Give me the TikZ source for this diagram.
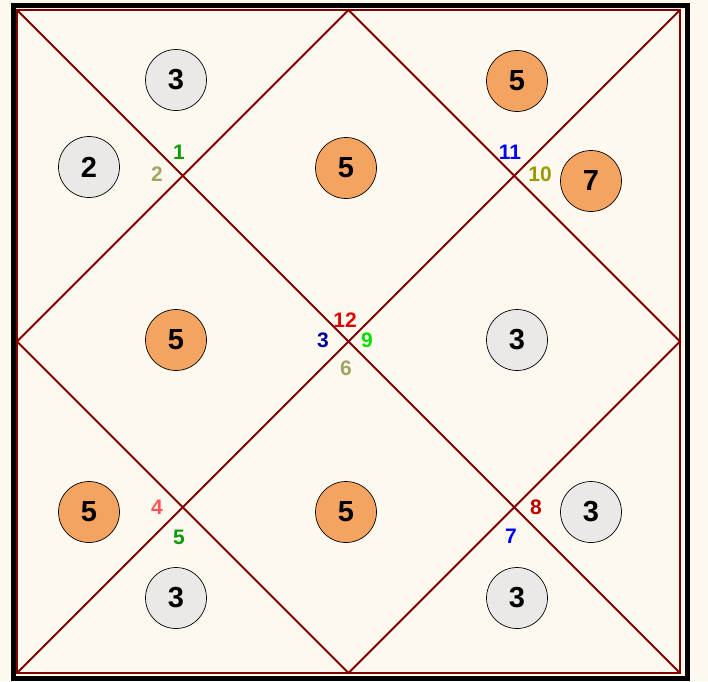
\documentclass[tikz,border=0pt]{standalone}
\usepackage{fontspec}
\setmainfont{Liberation Sans}
\begin{document}
\begin{tikzpicture}[x=1pt,y=-1pt,
  line/.style={draw=linered,line width=2pt},
  house/.style={circle,draw=black,line width=0.7pt,minimum size=61pt,inner sep=0pt,font=\bfseries\fontsize{29}{29}\selectfont},
  orb/.style={house,fill=orbfill},
  gry/.style={house,fill=greyfill},
  lbl/.style={inner sep=0pt,font=\bfseries\fontsize{21}{21}\selectfont}]
\definecolor{bgc}{HTML}{FEF9EF}
\definecolor{linered}{HTML}{800000}
\definecolor{orbfill}{HTML}{F4A460}
\definecolor{greyfill}{HTML}{EBE8E8}
\definecolor{cgreen}{HTML}{0A9A0A}
\definecolor{ckhaki}{HTML}{A3A363}
\definecolor{colive}{HTML}{999900}
\definecolor{cblue}{HTML}{0000FF}
\definecolor{cred}{HTML}{E00000}
\definecolor{cdblue}{HTML}{000099}
\definecolor{cbright}{HTML}{00E000}
\definecolor{clred}{HTML}{FF5555}
\definecolor{cdred}{HTML}{BB0000}
\fill[bgc] (0,0) rectangle (708,681);
\useasboundingbox (0,0) rectangle (708,681);
\draw[black,line width=5pt] (13.5,5.5) rectangle (687.5,678);
% corners and midpoints
\coordinate (tl) at (17,10);
\coordinate (tr) at (680,10);
\coordinate (br) at (680,673);
\coordinate (bl) at (17,673);
\coordinate (tm) at (348.5,10);
\coordinate (rm) at (680,341.5);
\coordinate (bm) at (348.5,673);
\coordinate (lm) at (17,341.5);
\draw[line] (tl) rectangle (br);
\draw[line] (tl) -- (br);
\draw[line] (tr) -- (bl);
\draw[line] (tm) -- (rm) -- (bm) -- (lm) -- cycle;
% circles
\node[gry] (h3a) at (176,80) {3};
\node[gry] (h2) at (89,167) {2};
\node[orb] (h5a) at (346,168) {5};
\node[orb] (h5b) at (517,81) {5};
\node[orb] (h7) at (591,181) {7};
\node[orb] (h5c) at (176,340) {5};
\node[gry] (h3b) at (517,340) {3};
\node[orb] (h5d) at (89,512) {5};
\node[orb] (h5e) at (346,512) {5};
\node[gry] (h3c) at (591,512) {3};
\node[gry] (h3d) at (176,598) {3};
\node[gry] (h3e) at (517,598) {3};
% house numbers
\node[lbl,text=cgreen] (n1) at (179,152) {1};
\node[lbl,text=ckhaki] (n2) at (157,174) {2};
\node[lbl,text=cblue] (n11) at (510,152) {11};
\node[lbl,text=colive] (n10) at (540,174) {10};
\node[lbl,text=cred] (n12) at (345,320) {12};
\node[lbl,text=cdblue] (n3) at (323,340) {3};
\node[lbl,text=cbright] (n9) at (367,340) {9};
\node[lbl,text=ckhaki] (n6) at (346,368) {6};
\node[lbl,text=clred] (n4) at (157,507) {4};
\node[lbl,text=cgreen] (n5) at (179,537) {5};
\node[lbl,text=cdred] (n8) at (536,507) {8};
\node[lbl,text=cblue] (n7) at (511,536) {7};
\end{tikzpicture}
\end{document}
